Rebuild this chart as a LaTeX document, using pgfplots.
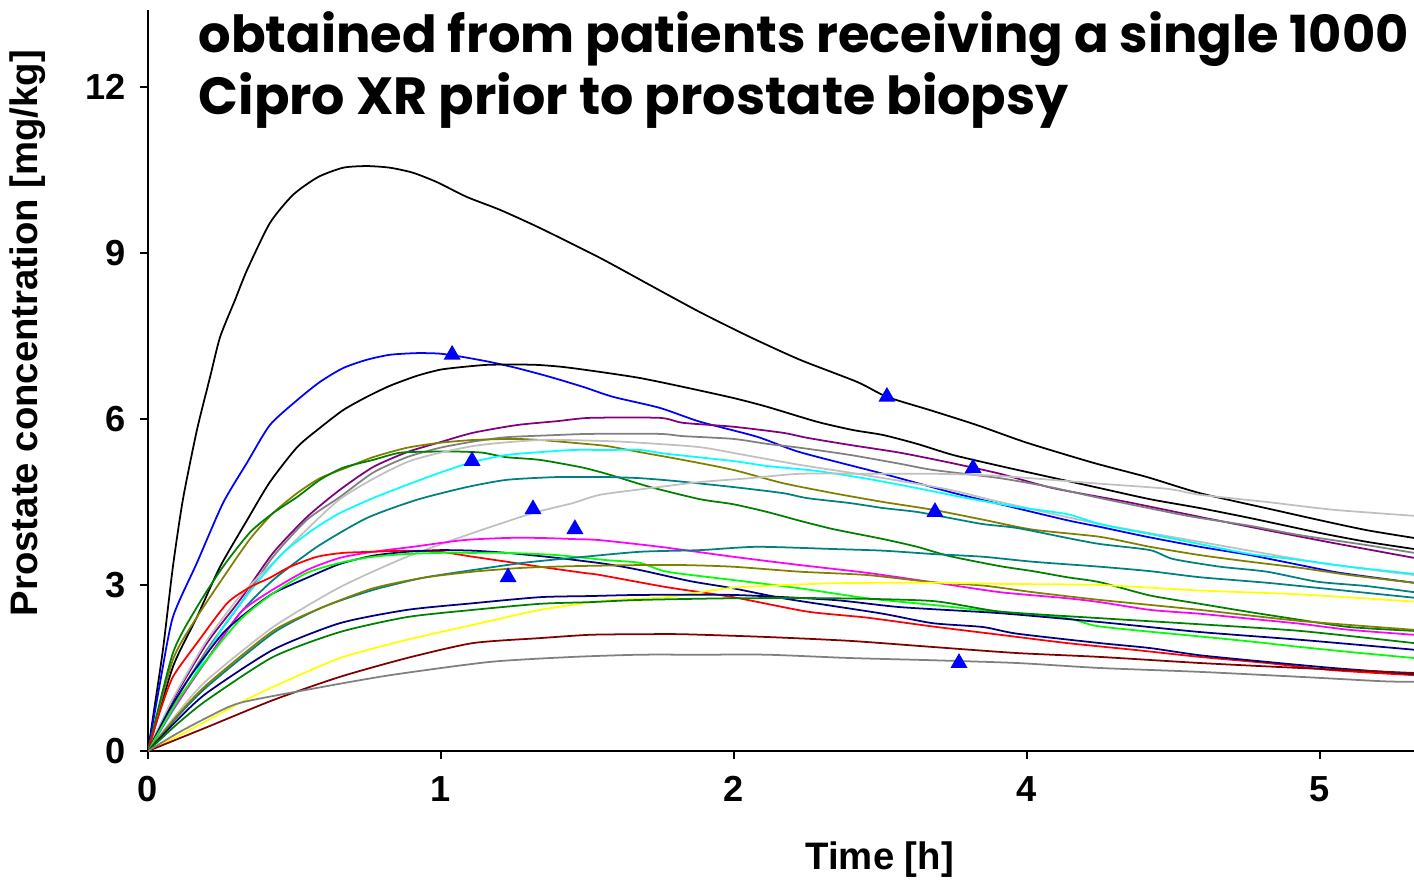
\documentclass[border=0pt]{standalone}
\usepackage{fontspec}
\setmainfont{Liberation Sans}
\newfontfamily\titlefont{Poppins}
\usepackage{pgfplots}
\pgfplotsset{compat=1.18}
\definecolor{cBlue}{HTML}{0000FF}
\definecolor{cPurple}{HTML}{800080}
\definecolor{cGray}{HTML}{808080}
\definecolor{cSilver}{HTML}{C0C0C0}
\definecolor{cOlive}{HTML}{808000}
\definecolor{cGreen}{HTML}{008000}
\definecolor{cCyan}{HTML}{00FFFF}
\definecolor{cTeal}{HTML}{008080}
\definecolor{cMagenta}{HTML}{FF00FF}
\definecolor{cRed}{HTML}{FF0000}
\definecolor{cNavy}{HTML}{000080}
\definecolor{cLime}{HTML}{00FF00}
\definecolor{cYellow}{HTML}{FFFF00}
\definecolor{cMaroon}{HTML}{800000}
\begin{document}
\begin{tikzpicture}
\begin{axis}[
  at={(1.48cm,1.29cm)}, anchor=south west,
  scale only axis, width=12.66cm, height=7.41cm,
  xmin=0, xmax=4.321, ymin=0, ymax=13.39,
  axis x line*=bottom, axis y line*=left,
  axis line style={line width=0.6pt},
  tick align=outside, major tick length=0.08cm,
  tick style={line width=0.6pt,black},
  xtick={0,1,2,3,4}, xticklabels={0,1,2,4,5},
  ytick={0,3,6,9,12},
  /pgf/number format/assume math mode=true,
  tick label style={font=\fontsize{10.3}{12}\selectfont\bfseries},
  xticklabel style={yshift=-0.05cm},
  yticklabel style={xshift=-0.02cm},
  xlabel={Time [h]}, ylabel={Prostate concentration [mg/kg]},
  label style={font=\fontsize{10.9}{13}\selectfont\bfseries},
  xlabel style={at={(axis description cs:0.578,-0.147)},anchor=center},
  ylabel style={at={(axis description cs:-0.0948,0.564)},anchor=center},
  every axis plot/.append style={line width=0.5pt, smooth, tension=0.4},
]
% top black
\addplot[black] coordinates {(0,0)(0.017,0.61)(0.051,1.83)(0.085,3.33)(0.119,4.54)(0.167,5.80)(0.212,6.76)(0.246,7.48)(0.297,8.15)(0.338,8.69)(0.416,9.54)(0.495,10.05)(0.580,10.37)(0.666,10.54)(0.747,10.57)(0.826,10.54)(0.904,10.45)(0.986,10.28)(1.089,10.01)(1.201,9.78)(1.338,9.45)(1.543,8.91)(1.713,8.42)(1.884,7.93)(2.055,7.48)(2.225,7.07)(2.420,6.67)(2.522,6.40)(2.669,6.16)(2.829,5.89)(3.0,5.57)(3.225,5.21)(3.410,4.95)(3.590,4.66)(3.840,4.36)(4.0,4.17)(4.160,3.99)(4.321,3.85)};
% blue
\addplot[cBlue] coordinates {(0,0)(0.041,1.23)(0.085,2.42)(0.167,3.40)(0.256,4.48)(0.338,5.21)(0.416,5.89)(0.509,6.34)(0.587,6.67)(0.666,6.92)(0.747,7.07)(0.826,7.16)(0.918,7.19)(0.997,7.18)(1.075,7.12)(1.167,7.03)(1.259,6.92)(1.372,6.76)(1.485,6.58)(1.587,6.40)(1.747,6.20)(1.884,5.95)(2.078,5.68)(2.225,5.40)(2.509,5.01)(2.737,4.68)(2.908,4.46)(3.137,4.17)(3.249,4.05)(3.410,3.87)(3.590,3.69)(3.761,3.54)(3.932,3.36)(4.068,3.22)(4.321,3.04)};
% second black
\addplot[black] coordinates {(0,0)(0.085,1.52)(0.167,2.42)(0.246,3.33)(0.338,4.17)(0.416,4.86)(0.509,5.49)(0.587,5.84)(0.666,6.16)(0.747,6.40)(0.826,6.60)(0.918,6.78)(0.997,6.89)(1.075,6.94)(1.167,6.98)(1.314,6.98)(1.416,6.94)(1.543,6.85)(1.679,6.74)(1.826,6.58)(1.997,6.38)(2.113,6.22)(2.283,5.95)(2.406,5.80)(2.509,5.71)(2.625,5.55)(2.747,5.35)(2.908,5.15)(3.078,4.95)(3.249,4.75)(3.420,4.55)(3.590,4.39)(3.761,4.21)(4.0,3.94)(4.160,3.78)(4.321,3.65)};
% purple
\addplot[cPurple] coordinates {(0,0)(0.085,0.92)(0.201,1.95)(0.314,2.73)(0.427,3.58)(0.543,4.23)(0.655,4.72)(0.768,5.13)(0.884,5.40)(0.997,5.58)(1.109,5.75)(1.259,5.89)(1.396,5.96)(1.509,6.02)(1.747,6.02)(1.826,5.93)(1.997,5.86)(2.167,5.75)(2.249,5.66)(2.396,5.53)(2.567,5.39)(2.737,5.21)(2.908,5.01)(3.089,4.75)(3.341,4.50)(3.590,4.23)(3.819,3.99)(4.044,3.76)(4.321,3.49)};
% dark gray
\addplot[cGray] coordinates {(0,0)(0.085,0.83)(0.201,1.83)(0.314,2.65)(0.427,3.51)(0.543,4.18)(0.655,4.59)(0.768,5.03)(0.884,5.31)(0.997,5.48)(1.109,5.59)(1.222,5.67)(1.396,5.71)(1.509,5.73)(1.747,5.73)(1.826,5.69)(1.997,5.64)(2.113,5.55)(2.225,5.48)(2.396,5.35)(2.567,5.19)(2.678,5.08)(2.908,4.93)(3.078,4.77)(3.249,4.57)(3.498,4.30)(3.590,4.21)(3.761,4.07)(3.932,3.90)(4.160,3.72)(4.321,3.58)};
% olive
\addplot[cOlive] coordinates {(0,0)(0.085,1.65)(0.167,2.42)(0.256,3.13)(0.348,3.83)(0.427,4.30)(0.509,4.66)(0.587,4.93)(0.682,5.13)(0.768,5.31)(0.884,5.48)(0.997,5.57)(1.109,5.62)(1.246,5.64)(1.338,5.62)(1.450,5.57)(1.567,5.51)(1.679,5.40)(1.826,5.26)(1.997,5.08)(2.167,4.84)(2.338,4.66)(2.509,4.50)(2.678,4.36)(2.850,4.18)(3.020,4.00)(3.249,3.87)(3.420,3.69)(3.590,3.54)(3.761,3.42)(3.932,3.31)(4.100,3.18)(4.321,3.04)};
% dark green
\addplot[cGreen] coordinates {(0,0)(0.085,1.77)(0.167,2.60)(0.256,3.33)(0.348,3.95)(0.427,4.30)(0.509,4.59)(0.587,4.90)(0.666,5.12)(0.768,5.26)(0.860,5.39)(0.973,5.41)(1.065,5.41)(1.143,5.39)(1.222,5.31)(1.338,5.26)(1.485,5.12)(1.577,4.99)(1.714,4.77)(1.884,4.55)(1.997,4.46)(2.113,4.32)(2.225,4.16)(2.338,4.01)(2.509,3.83)(2.625,3.69)(2.737,3.52)(2.908,3.34)(3.020,3.25)(3.137,3.14)(3.249,3.05)(3.420,2.81)(3.590,2.66)(3.761,2.51)(3.932,2.37)(4.100,2.24)(4.321,2.17)};
% silver, upper
\addplot[cSilver] coordinates {(0,0)(0.085,0.95)(0.201,2.00)(0.314,2.80)(0.427,3.40)(0.655,4.55)(0.884,5.22)(1.109,5.51)(1.338,5.62)(1.567,5.60)(1.679,5.57)(1.884,5.49)(2.055,5.33)(2.225,5.17)(2.396,5.03)(2.567,4.88)(2.737,4.72)(2.908,4.50)(3.249,4.10)(3.590,3.78)(4.000,3.40)(4.321,3.18)};
% cyan
\addplot[cCyan] coordinates {(0,0)(0.143,1.23)(0.256,2.24)(0.372,3.04)(0.461,3.58)(0.563,4.00)(0.655,4.30)(0.768,4.57)(0.884,4.81)(0.997,5.03)(1.106,5.22)(1.225,5.35)(1.338,5.40)(1.450,5.44)(1.567,5.44)(1.679,5.44)(1.771,5.37)(1.997,5.24)(2.113,5.15)(2.283,5.06)(2.454,4.92)(2.625,4.75)(2.795,4.57)(2.966,4.41)(3.137,4.28)(3.249,4.10)(3.420,3.92)(3.590,3.74)(3.761,3.56)(3.932,3.45)(4.100,3.33)(4.321,3.20)};
% teal, upper
\addplot[cTeal] coordinates {(0,0)(0.100,0.90)(0.201,1.65)(0.314,2.49)(0.427,3.09)(0.577,3.69)(0.747,4.21)(0.918,4.54)(1.089,4.77)(1.225,4.90)(1.396,4.95)(1.567,4.95)(1.679,4.93)(1.797,4.88)(1.997,4.77)(2.167,4.66)(2.249,4.57)(2.396,4.48)(2.509,4.39)(2.625,4.32)(2.737,4.21)(2.850,4.10)(2.966,4.03)(3.137,3.85)(3.249,3.74)(3.420,3.63)(3.498,3.47)(3.659,3.33)(3.819,3.24)(3.990,3.06)(4.160,2.98)(4.321,2.87)};
% silver, slow
\addplot[cSilver] coordinates {(0,0)(0.100,0.68)(0.201,1.28)(0.427,2.24)(0.655,2.96)(0.884,3.51)(1.109,3.94)(1.314,4.30)(1.450,4.48)(1.543,4.63)(1.714,4.75)(1.884,4.86)(2.055,4.93)(2.225,5.01)(2.454,5.01)(2.678,5.01)(2.908,4.97)(3.249,4.83)(3.476,4.74)(3.590,4.63)(3.819,4.50)(4.044,4.36)(4.321,4.25)};
% magenta
\addplot[cMagenta] coordinates {(0,0)(0.085,0.74)(0.201,1.65)(0.314,2.49)(0.406,2.85)(0.543,3.27)(0.655,3.49)(0.768,3.60)(0.904,3.69)(1.075,3.81)(1.225,3.85)(1.338,3.85)(1.450,3.83)(1.543,3.81)(1.747,3.69)(1.997,3.51)(2.225,3.36)(2.454,3.22)(2.678,3.05)(2.908,2.87)(3.137,2.76)(3.249,2.69)(3.420,2.55)(3.590,2.48)(3.761,2.39)(3.932,2.30)(4.100,2.19)(4.321,2.10)};
% red
\addplot[cRed] coordinates {(0,0)(0.040,0.70)(0.085,1.34)(0.167,1.95)(0.270,2.67)(0.348,2.96)(0.416,3.13)(0.485,3.33)(0.577,3.51)(0.666,3.58)(0.768,3.60)(0.884,3.62)(0.997,3.60)(1.109,3.51)(1.225,3.42)(1.338,3.33)(1.485,3.22)(1.543,3.18)(1.771,2.96)(1.997,2.78)(2.249,2.52)(2.454,2.41)(2.678,2.25)(2.908,2.10)(3.137,1.95)(3.362,1.83)(3.590,1.70)(3.819,1.59)(4.044,1.46)(4.321,1.37)};
% navy, upper
\addplot[cNavy] coordinates {(0,0)(0.070,0.72)(0.143,1.34)(0.256,2.13)(0.348,2.55)(0.427,2.85)(0.543,3.13)(0.655,3.38)(0.768,3.53)(0.884,3.60)(0.997,3.63)(1.109,3.62)(1.225,3.58)(1.396,3.49)(1.563,3.38)(1.679,3.27)(1.850,3.07)(1.997,2.94)(2.167,2.76)(2.338,2.62)(2.509,2.48)(2.678,2.31)(2.850,2.24)(2.966,2.12)(3.249,1.95)(3.420,1.86)(3.590,1.73)(3.819,1.61)(4.044,1.50)(4.321,1.39)};
% lime
\addplot[cLime] coordinates {(0,0)(0.100,0.90)(0.201,1.65)(0.314,2.37)(0.427,2.85)(0.543,3.22)(0.655,3.40)(0.768,3.51)(0.884,3.56)(0.997,3.58)(1.109,3.58)(1.225,3.58)(1.396,3.54)(1.563,3.45)(1.679,3.40)(1.771,3.24)(1.997,3.09)(2.225,2.94)(2.454,2.76)(2.678,2.64)(2.908,2.51)(3.137,2.40)(3.249,2.25)(3.590,2.07)(3.761,1.98)(3.932,1.88)(4.100,1.79)(4.321,1.68)};
% teal, lower
\addplot[cTeal] coordinates {(0,0)(0.100,0.62)(0.201,1.16)(0.427,2.13)(0.597,2.60)(0.768,2.91)(0.939,3.13)(1.109,3.27)(1.280,3.40)(1.450,3.49)(1.679,3.60)(1.884,3.63)(2.078,3.69)(2.338,3.65)(2.509,3.62)(2.678,3.56)(2.850,3.51)(3.020,3.42)(3.249,3.33)(3.420,3.25)(3.590,3.14)(3.819,3.04)(4.044,2.92)(4.321,2.77)};
% olive, lower
\addplot[cOlive] coordinates {(0,0)(0.100,0.64)(0.201,1.20)(0.427,2.17)(0.597,2.60)(0.768,2.94)(0.939,3.13)(1.109,3.24)(1.280,3.31)(1.450,3.34)(1.679,3.36)(1.826,3.36)(1.997,3.33)(2.225,3.24)(2.454,3.18)(2.678,3.05)(2.850,2.99)(3.020,2.87)(3.249,2.73)(3.590,2.55)(3.932,2.35)(4.321,2.19)};
% yellow
\addplot[cYellow] coordinates {(0,0)(0.143,0.38)(0.314,0.87)(0.427,1.16)(0.655,1.68)(0.884,2.01)(1.109,2.28)(1.338,2.55)(1.567,2.72)(1.771,2.78)(1.997,2.95)(2.338,3.03)(2.678,3.04)(2.908,3.02)(3.249,3.00)(3.590,2.90)(3.932,2.83)(4.321,2.70)};
% navy, lower
\addplot[cNavy] coordinates {(0,0)(0.100,0.56)(0.201,1.05)(0.427,1.83)(0.655,2.31)(0.884,2.55)(1.109,2.67)(1.338,2.78)(1.509,2.80)(1.679,2.82)(1.997,2.82)(2.338,2.73)(2.567,2.60)(2.908,2.49)(3.249,2.33)(3.590,2.15)(3.932,2.01)(4.321,1.83)};
% dark green, lower
\addplot[cGreen] coordinates {(0,0)(0.100,0.49)(0.201,0.92)(0.427,1.70)(0.655,2.15)(0.884,2.42)(1.109,2.55)(1.338,2.66)(1.509,2.69)(1.679,2.73)(1.997,2.76)(2.338,2.76)(2.678,2.71)(2.908,2.52)(3.249,2.40)(3.590,2.29)(3.932,2.17)(4.321,1.95)};
% maroon
\addplot[cMaroon] coordinates {(0,0)(0.201,0.43)(0.427,0.92)(0.655,1.34)(0.884,1.68)(1.109,1.95)(1.338,2.04)(1.509,2.10)(1.679,2.11)(1.826,2.11)(2.113,2.06)(2.396,1.99)(2.678,1.88)(2.966,1.77)(3.249,1.70)(3.590,1.59)(3.932,1.50)(4.321,1.41)};
% gray, lowest
\addplot[cGray] coordinates {(0,0)(0.100,0.32)(0.200,0.60)(0.314,0.87)(0.577,1.14)(0.826,1.37)(1.167,1.61)(1.450,1.70)(1.679,1.74)(1.884,1.74)(2.113,1.74)(2.396,1.68)(2.678,1.64)(2.966,1.59)(3.249,1.50)(3.590,1.43)(3.932,1.34)(4.215,1.26)(4.321,1.25)};
% observed biopsy values
\addplot[only marks, mark=triangle*, mark size=2.3pt, color=cBlue, fill=cBlue]
  coordinates {(1.038,7.16)(1.106,5.24)(1.314,4.37)(1.457,4.01)(1.229,3.14)(2.522,6.40)(2.816,5.11)(2.686,4.32)(2.768,1.59)};
\end{axis}
\node[anchor=base west, inner sep=0pt] at (1.98,8.27)
  {\resizebox{12.10cm}{!}{\titlefont\bfseries obtained from patients receiving a single 1000}};
\node[anchor=base west, inner sep=0pt] at (1.98,7.65)
  {\resizebox{8.70cm}{!}{\titlefont\bfseries Cipro XR prior to prostate biopsy}};
\pgfresetboundingbox
\useasboundingbox (0,0) rectangle (14.14,8.8);
\end{tikzpicture}
\end{document}
